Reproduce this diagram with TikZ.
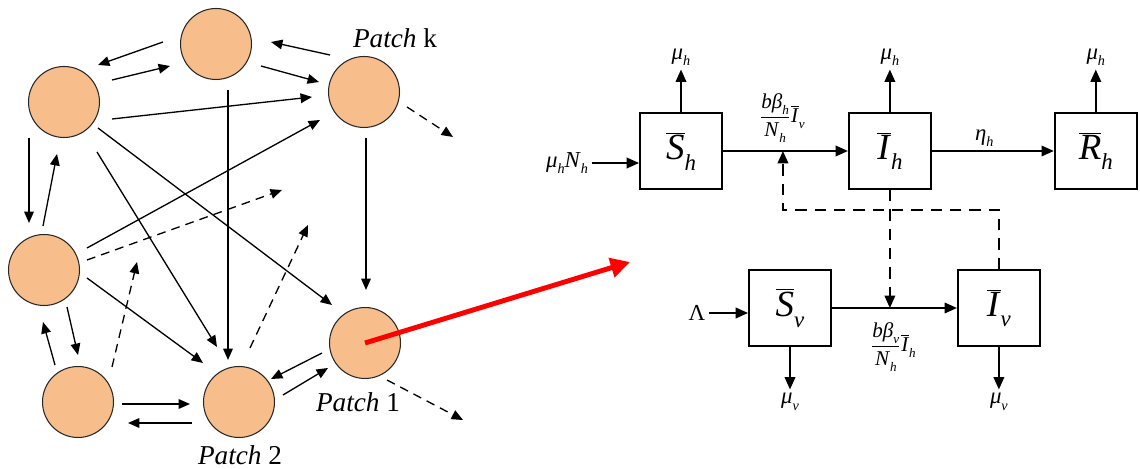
\documentclass[tikz,border=0pt]{standalone}
\usepackage{graphicx}
\usepackage{fontspec}
\setmainfont{Liberation Serif}
\usetikzlibrary{arrows.meta,calc,positioning}

\definecolor{patchfill}{RGB}{247,190,140}

% italic letter with a lowered italic subscript, in the text font
\newcommand{\lowsub}[1]{\raisebox{-0.28em}{\scalebox{0.62}{\textit{#1}}}}
\newcommand{\vsub}[2]{\textit{#1}\lowsub{#2}}
\newcommand{\vbar}[2]{$\overline{\hbox{\textit{#1}}}$\lowsub{#2}}
\newcommand{\vfrac}[2]{$\displaystyle\frac{\hbox{#1}}{\hbox{#2}}$}

\tikzset{
  patch/.style={circle,draw=black!85,line width=0.6pt,fill=patchfill,minimum size=1.42cm,inner sep=0pt,outer sep=0pt},
  plabel/.style={font=\fontsize{15.5}{18}\selectfont,inner sep=1pt},
  conn/.style={-{Triangle[length=6.5pt,width=5.5pt]},line width=0.75pt},
  dconn/.style={conn,dash pattern=on 5pt off 3.5pt},
  box/.style={draw,line width=1.1pt,minimum width=1.64cm,minimum height=1.52cm,inner sep=0pt,font=\fontsize{21}{23}\selectfont},
  lbl/.style={font=\fontsize{13}{15}\selectfont,inner sep=2pt},
  fraclbl/.style={font=\fontsize{12}{14}\selectfont,inner sep=1pt},
  flow/.style={-{Triangle[length=7pt,width=6pt]},line width=1pt},
  fb/.style={flow,dash pattern=on 6.5pt off 4.5pt},
  zoomarr/.style={-{Triangle[length=11pt,width=11pt]},line width=2.8pt,red}
}

\begin{document}
\begin{tikzpicture}[x=0.02cm,y=0.02cm]
  \useasboundingbox (0,0) rectangle (1140,-469);

  % Patches of the network
  \node[patch] (top) at (216,-44) {};
  \node[patch] (ul) at (64,-102) {};
  \node[patch] (pk) at (364,-92) {};
  \node[patch] (ml) at (44,-270) {};
  \node[patch] (bl) at (78,-402) {};
  \node[patch] (p2) at (239,-402) {};
  \node[patch] (p1) at (365,-343) {};

  \node[plabel] (lk) at (395,-38) {\textit{Patch} k};
  \node[plabel] (l1) at (358,-402) {\textit{Patch} 1};
  \node[plabel] (l2) at (240,-455) {\textit{Patch} 2};

  % Open ends of the dashed links
  \coordinate (dA) at (282,-190);
  \coordinate (dB) at (137,-262);
  \coordinate (dC) at (308,-225);
  \coordinate (dD) at (453,-137);
  \coordinate (dE) at (463,-420);
  \coordinate (zoomto) at (630,-262);

  % Movement between patches
  \draw[conn] ($(top)+(-53,2)$) -- ($(ul)+(34,37)$);
  \draw[conn] ($(ul)+(48,22)$) -- ($(top)+(-46,-22)$);
  \draw[conn] ($(pk)+(-34,37)$) -- ($(top)+(55,2)$);
  \draw[conn] ($(top)+(45,-22)$) -- ($(pk)+(-45,10)$);
  \draw[conn] ($(ul)+(48,-17)$) -- ($(pk)+(-52,-5)$);
  \draw[conn] ($(top)+(12,-46)$) -- ($(p2)+(-11,42)$);
  \draw[conn] ($(ul)+(33,-50)$) -- ($(p2)+(-22,55)$);
  \draw[conn] ($(ul)+(34,-26)$) -- ($(p1)+(-33,38)$);
  \draw[conn] ($(ml)+(43,22)$) -- ($(pk)+(-44,-28)$);
  \draw[conn] ($(ml)+(43,-8)$) -- ($(p2)+(-36,39)$);
  \draw[conn] ($(ul)+(-35,-36)$) -- ($(ml)+(-15,47)$);
  \draw[conn] ($(ml)+(-1,44)$) -- ($(ul)+(-7,-52)$);
  \draw[conn] ($(ml)+(23,-37)$) -- ($(bl)+(0,47)$);
  \draw[conn] ($(bl)+(-23,37)$) -- ($(ml)+(-1,-52)$);
  \draw[conn] ($(bl)+(44,-2)$) -- ($(p2)+(-49,-2)$);
  \draw[conn] ($(p2)+(-47,-21)$) -- ($(bl)+(50,-21)$);
  \draw[conn] ($(pk)+(2,-46)$) -- ($(p1)+(1,53)$);
  \draw[conn] ($(p1)+(-43,-10)$) -- ($(p2)+(32,23)$);
  \draw[conn] ($(p2)+(44,7)$) -- ($(p1)+(-37,-25)$);

  % Links to further patches
  \draw[dconn] ($(ml)+(43,10)$) -- (dA);
  \draw[dconn] ($(bl)+(34,35)$) -- (dB);
  \draw[dconn] ($(p2)+(11,54)$) -- (dC);
  \draw[dconn] ($(pk)+(43,-15)$) -- (dD);
  \draw[dconn] ($(p1)+(22,-37)$) -- (dE);

  % Zoom into one patch
  \draw[zoomarr] (p1.center) -- (zoomto);

  % Compartments inside a patch
  \node[box] (Sh) at (681,-151) {\vbar{S}{h}};
  \node[box,right=2.5cm of Sh] (Ih) {\vbar{I}{h}};
  \node[box,right=2.44cm of Ih] (Rh) {\vbar{R}{h}};
  \node[box] (Sv) at (790,-308) {\vbar{S}{v}};
  \node[box,right=2.5cm of Sv] (Iv) {\vbar{I}{v}};

  % Births and deaths
  \node[lbl] (muN) at (567,-163) {\vsub{μ}{h}\vsub{N}{h}};
  \node[lbl] (Lam) at (697,-313) {Λ};
  \node[lbl,above=0.85cm of Sh] (muSh) {\vsub{μ}{h}};
  \node[lbl,above=0.85cm of Ih] (muIh) {\vsub{μ}{h}};
  \node[lbl,above=0.85cm of Rh] (muRh) {\vsub{μ}{h}};
  \node[lbl,below=0.85cm of Sv] (muSv) {\vsub{μ}{v}};
  \node[lbl,below=0.85cm of Iv] (muIv) {\vsub{μ}{v}};

  \draw[flow] (muN.east) -- (muN.east -| Sh.west);
  \draw[flow] (Lam.east) -- (Lam.east -| Sv.west);
  \draw[flow] (Sh.north) -- (muSh);
  \draw[flow] (Ih.north) -- (muIh);
  \draw[flow] (Rh.north) -- (muRh);
  \draw[flow] (Sv.south) -- (muSv);
  \draw[flow] (Iv.south) -- (muIv);

  % Transitions
  \draw[flow] (Sh) -- (Ih);
  \draw[flow] (Ih) -- node[lbl,above,pos=0.43] (eta) {\vsub{η}{h}} (Rh);
  \draw[flow] (Sv) -- (Iv);

  \node[fraclbl] (fh) at (782,-118) {\vfrac{\textit{b}\vsub{β}{h}}{\vsub{N}{h}}\vbar{I}{v}};
  \node[fraclbl] (fv) at (893,-347) {\vfrac{\textit{b}\vsub{β}{v}}{\vsub{N}{h}}\vbar{I}{h}};

  % Infection feedback
  \coordinate (m1) at ($(Sh.east)!0.48!(Ih.west)$);
  \coordinate (m2) at (Ih.south |- Sv.east);
  \draw[fb] (Ih.south) -- (m2);
  \draw[fb] (Iv.north) -- ++(0,59) -| (m1);
\end{tikzpicture}
\end{document}
